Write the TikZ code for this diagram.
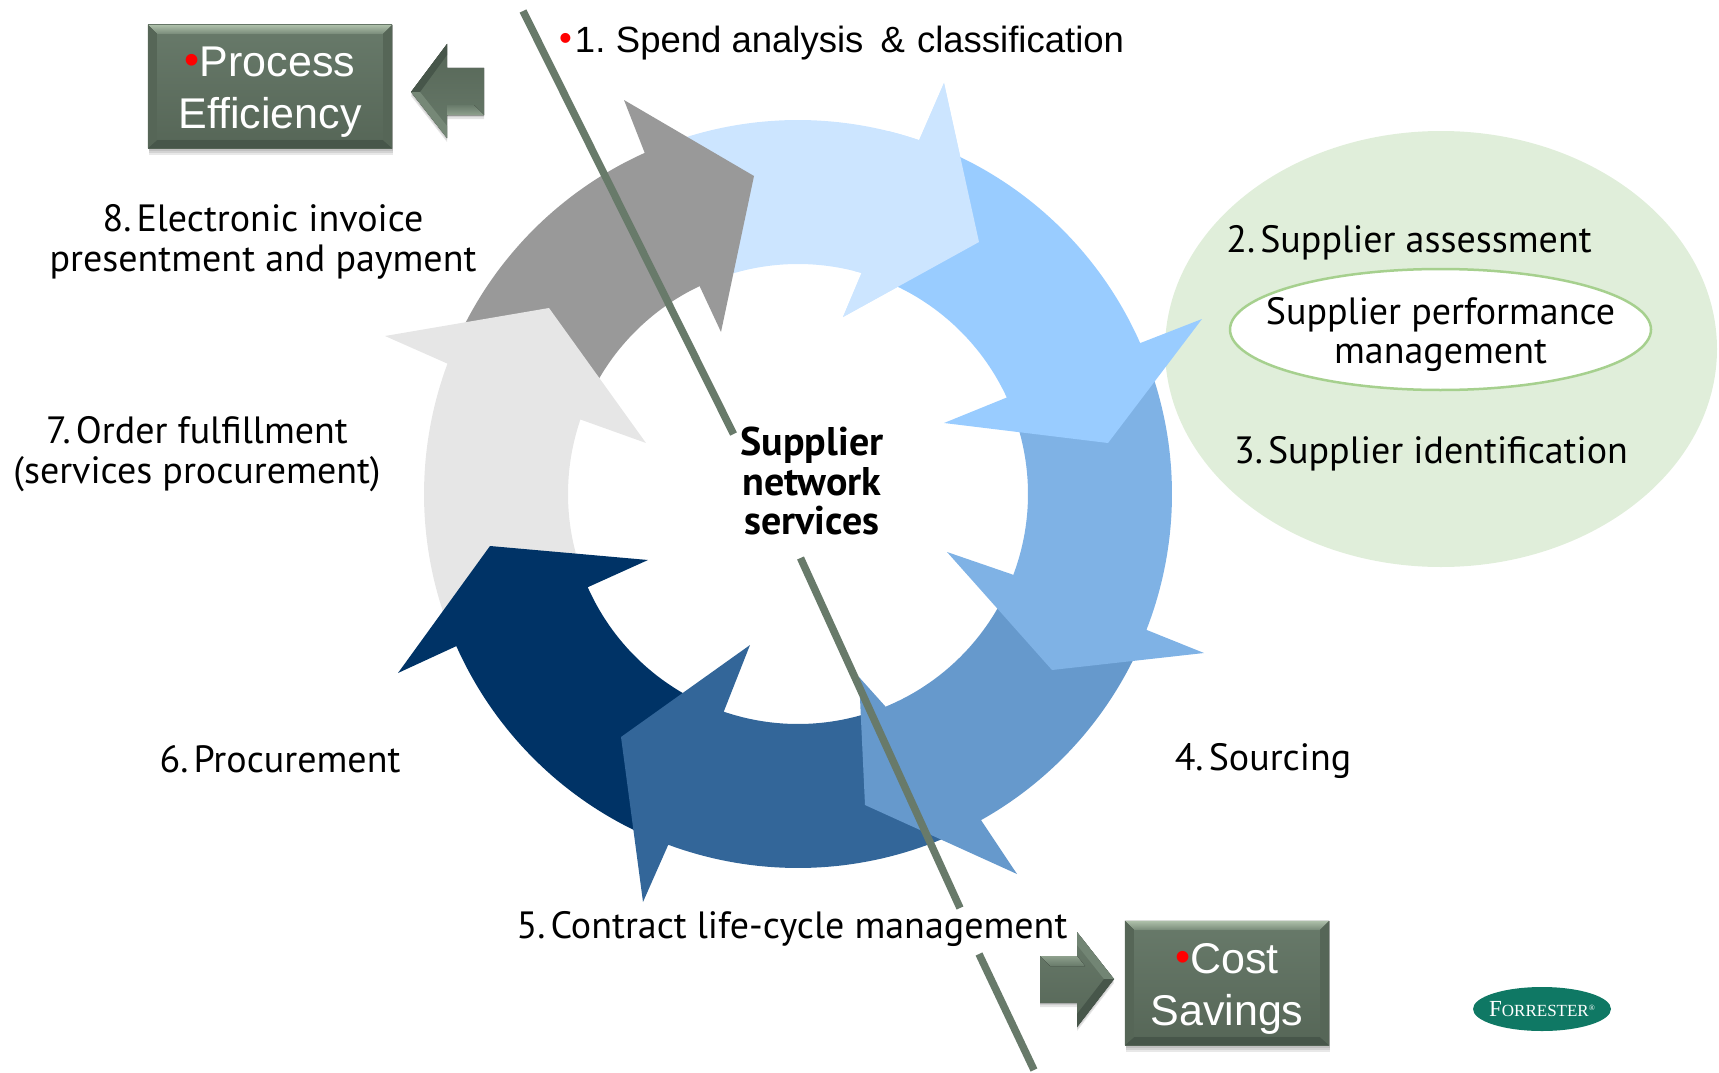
\documentclass[tikz,border=0pt]{standalone}
\usepackage{fontspec}
\setmainfont{PT Sans}
\newfontfamily\arialf{Liberation Sans}
\newfontfamily\timesf{Liberation Serif}
\usetikzlibrary{calc,shapes.geometric}
\definecolor{aOne}{HTML}{CCE5FF}
\definecolor{aTwo}{HTML}{99CCFF}
\definecolor{aThree}{HTML}{7FB2E5}
\definecolor{aFour}{HTML}{6699CC}
\definecolor{aFive}{HTML}{336699}
\definecolor{aSix}{HTML}{003366}
\definecolor{aSeven}{HTML}{E6E6E6}
\definecolor{aEight}{HTML}{999999}
\definecolor{sage}{HTML}{687A6A}
\definecolor{sageD}{HTML}{47564A}
\definecolor{sageM}{HTML}{566657}
\definecolor{sageL}{HTML}{AEC0AA}
\definecolor{oval}{HTML}{E0EEDA}
\definecolor{ovalLine}{HTML}{A6D08E}
\definecolor{forr}{HTML}{0F7864}
\newcommand{\nk}{\kern-5pt\ }
\tikzset{
  x=1pt,y=-1pt,
  declare function={ox(\t)=798+374*cos(\t); oy(\t)=494+374*sin(\t); ix(\t)=798+230*cos(\t); iy(\t)=494+230*sin(\t);},
  lbl/.style={inner sep=0pt,align=center,text=black,font=\fontsize{38}{39.5}\selectfont},
  boxbody/.style={inner sep=0pt,top color=sage,bottom color=sageM},
  boxtext/.style={inner sep=0pt,align=center,text=white,font=\arialf\fontsize{43}{51.5}\selectfont},
  cutline/.style={sage,line width=7.5pt},
  bevD/.style={fill=sageD},
  bevS/.style={fill=sageM},
}
\newcommand{\bevels}[1]{%
  \fill[top color=sageL,bottom color=sage!75!sageL] (#1.north west) -- (#1.north east) -- ($(#1.north east)+(-9,9)$) -- ($(#1.north west)+(9,9)$) -- cycle;
  \fill[bevD] (#1.south west) -- (#1.south east) -- ($(#1.south east)+(-9,-8)$) -- ($(#1.south west)+(9,-8)$) -- cycle;
  \fill[bevS] (#1.north west) -- (#1.south west) -- ($(#1.south west)+(9,-8)$) -- ($(#1.north west)+(9,9)$) -- cycle;
  \fill[bevS] (#1.north east) -- (#1.south east) -- ($(#1.south east)+(-9,-8)$) -- ($(#1.north east)+(-9,9)$) -- cycle;
}
\newcommand{\shadowbox}[4]{%
  \foreach \d in {1,3,5,7} {\fill[black,opacity=.09] (#1+1,#2) rectangle (#3+1,#4+\d);}
}
\begin{document}
\begin{tikzpicture}
\useasboundingbox (0,0) rectangle (1719,1073);
% ovals
\node[ellipse,fill=oval,minimum width=552pt,minimum height=436pt,inner sep=0pt] (bigoval) at (1441,349) {};
\node[ellipse,fill=white,draw=ovalLine,line width=2.5pt,minimum width=421pt,minimum height=121pt,inner sep=0pt] (smalloval) at (1440.5,329.5) {};
% ring arrows
\fill[aOne] plot[domain=-112:-71.1,samples=40] ({ox(\x)},{oy(\x)}) -- (944,83) -- (979,242) -- (843,317) -- (862,272) -- plot[domain=-73.9:-112,samples=40] ({ix(\x)},{iy(\x)}) -- cycle;
\fill[aEight] plot[domain=-157:-114.2,samples=40] ({ox(\x)},{oy(\x)}) -- (624,100) -- (754,176) -- (721,332) -- (700,287) -- plot[domain=-115.3:-157,samples=40] ({ix(\x)},{iy(\x)}) -- cycle;
\fill[aSeven] plot[domain=157:200.4,samples=40] ({ox(\x)},{oy(\x)}) -- (385,336) -- (549,308) -- (646,443) -- (579,419) -- plot[domain=198.9:157,samples=40] ({ix(\x)},{iy(\x)}) -- cycle;
\fill[aSix] plot[domain=112:156,samples=40] ({ox(\x)},{oy(\x)}) -- (398,673) -- (490,546) -- (648,560) -- (586,588) -- plot[domain=156.1:112,samples=40] ({ix(\x)},{iy(\x)}) -- cycle;
\fill[aFive] plot[domain=64:110.3,samples=40] ({ox(\x)},{oy(\x)}) -- (643,902) -- (621,737) -- (750,645) -- (724,711) -- plot[domain=108.8:70,samples=40] ({ix(\x)},{iy(\x)}) -- cycle;
\fill[aFour] plot[domain=24:60.7,samples=40] ({ox(\x)},{oy(\x)}) -- (1017,874) -- (865,805) -- (859,677) -- (885,706) -- plot[domain=67.7:24,samples=40] ({ix(\x)},{iy(\x)}) -- cycle;
\fill[aThree] plot[domain=-21:21.3,samples=40] ({ox(\x)},{oy(\x)}) -- (1204,653) -- (1052,670) -- (947,552) -- (1011,574) -- plot[domain=20.6:-21,samples=40] ({ix(\x)},{iy(\x)}) -- cycle;
\fill[aTwo] plot[domain=-68:-23.8,samples=40] ({ox(\x)},{oy(\x)}) -- (1202,319) -- (1108,443) -- (944,423) -- (1008,397) -- plot[domain=-24.8:-68,samples=40] ({ix(\x)},{iy(\x)}) -- cycle;
% head of the first arrow, which lies over the second arrow's tail
\fill[aOne] plot[domain=-76:-71.1,samples=8] ({ox(\x)},{oy(\x)}) -- (944,83) -- (979,242) -- (843,317) -- (862,272) -- plot[domain=-73.9:-76,samples=8] ({ix(\x)},{iy(\x)}) -- cycle;
% cut lines
\coordinate (la) at (523,11);
\coordinate (lb) at (733.5,434);
\coordinate (lc) at (800.5,558);
\coordinate (ld) at (960,908);
\coordinate (le) at (979,954);
\coordinate (lf) at (1034,1070);
\draw[cutline] (la) -- (lb);
\draw[cutline] (lc) -- (ld);
\draw[cutline] (le) -- (lf);
% boxes
\shadowbox{148}{25}{392}{148}
\node[boxbody,minimum width=244pt,minimum height=123pt] (peff) at (270,86.5) {};
\shadowbox{1125}{921}{1329}{1045}
\node[boxbody,minimum width=204pt,minimum height=124pt] (csav) at (1227,983) {};
\bevels{peff}
\bevels{csav}
\node[boxtext] (pefft) at (270,92) {\textcolor{red}{\raisebox{2pt}{•}}Process\\Efficiency};
\node[boxtext] (csavt) at (1227,989) {\textcolor{red}{\raisebox{2pt}{•}}Cost\\Savings};
% block arrows
\foreach \d in {2,4} {\fill[black,opacity=.1] (411,92+\d) -- (447,44+\d) -- (447,68+\d) -- (484,68+\d) -- (484,115+\d) -- (447,115+\d) -- (447,138+\d) -- cycle;}
\fill[top color=sageM,bottom color=sage] (411,92) -- (447,44) -- (447,68) -- (484,68) -- (484,115) -- (447,115) -- (447,138) -- cycle;
\fill[sageD] (411,92) -- (447,44) -- (447,55) -- (420,92) -- cycle;
\fill[sage!80!sageL] (420,92) -- (411,92) -- (447,138) -- (447,126) -- cycle;
\fill[top color=sage,bottom color=sage!45!sageL] (447,105) -- (474,105) -- (484,115) -- (447,115) -- cycle;
\foreach \d in {2,4} {\fill[black,opacity=.1] (1040,956+\d) -- (1077,956+\d) -- (1077,932+\d) -- (1114,979+\d) -- (1077,1027+\d) -- (1077,1003+\d) -- (1040,1003+\d) -- cycle;}
\fill[top color=sage,bottom color=sageM] (1040,956) -- (1077,956) -- (1077,932) -- (1114,979) -- (1077,1027) -- (1077,1003) -- (1040,1003) -- cycle;
\fill[top color=sage!45!sageL,bottom color=sage] (1040,956) -- (1077,956) -- (1085,966) -- (1050,966) -- cycle;
\fill[sage!85!sageL] (1077,932) -- (1114,979) -- (1104,979) -- (1077,945) -- cycle;
\fill[sageD] (1077,1027) -- (1114,979) -- (1104,979) -- (1077,1014) -- cycle;
% labels
\node[inner sep=0pt,anchor=west,font=\arialf\fontsize{36.5}{40}\selectfont] (l1) at (559,43) {\textcolor{red}{\raisebox{2pt}{•}}\kern3pt 1.\kern-3pt{} Spend analysis\kern7pt{} \&\kern2pt{} classification};
\node[lbl] (l8) at (263,242) {8.\nk Electronic invoice\\presentment and payment};
\node[lbl] (l2) at (1409,243) {2.\nk Supplier assessment};
\node[lbl,font=\fontsize{38}{39}\selectfont] (lspm) at (1440.5,334) {Supplier performance\\management};
\node[lbl] (l3) at (1431,454) {3.\nk Supplier identification};
\node[lbl] (l7) at (197,454) {7.\nk Order fulfillment\\(services procurement)};
\node[lbl] (l6) at (280,759) {6.\nk Procurement};
\node[lbl] (l4) at (1263,761) {4.\nk Sourcing};
\node[lbl] (l5) at (792,929) {5.\nk Contract life-cycle management};
\node[lbl,font=\bfseries\fontsize{40}{39.5}\selectfont] (lcenter) at (812,481) {Supplier\\network\\services};
% logo
\node[ellipse,fill=forr,minimum width=138pt,minimum height=44pt,inner sep=0pt] (logo) at (1542,1009) {};
\node[inner sep=0pt,text=white,font=\timesf\fontsize{17}{17}\selectfont] (logot) at (logo) {{\fontsize{23}{23}\selectfont F}ORRESTER{\fontsize{8}{8}\selectfont\raisebox{6pt}{®}}};
\end{tikzpicture}
\end{document}
